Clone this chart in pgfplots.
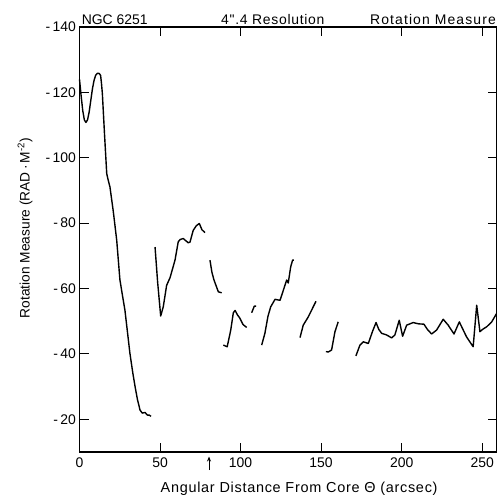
\documentclass[border=0pt]{standalone}
\usepackage{fontspec}
\setmainfont{Liberation Sans}
\newfontfamily\widefont{Liberation Sans}[LetterSpace=5]
\newfontfamily\widerfont{Liberation Sans}[LetterSpace=8]
\usepackage{pgfplots}
\pgfplotsset{compat=1.18}
\usetikzlibrary{arrows.meta}
\begin{document}
\begin{tikzpicture}
\begin{axis}[
  at={(0,0)}, anchor=south west,
  scale only axis, width=417.5bp, height=425bp,
  xmin=0, xmax=259.2, ymin=-140, ymax=-10, y dir=reverse,
  xtick={0,50,100,150,200,250},
  xticklabels={0,50,100,150,200,250},
  ytick={-140,-120,-100,-80,-60,-40,-20},
  yticklabels={-\,140,-\,120,-\,100,-\,80,-\,60,-\,40,-\,20},
  tick align=inside, major tick length=9bp,
  tick style={line width=1pt, black},
  axis line style={line width=1.1pt},
  tick label style={font=\fontsize{14}{16}\selectfont},
  xticklabel style={yshift=-2bp},
  xlabel={\widefont Angular Distance From Core Θ (arcsec)},
  ylabel={Rotation Measure (RAD\,·\,M\textsuperscript{-2})},
  xlabel style={at={(axis description cs:0.526,-0.087)}, anchor=center, font=\fontsize{14.5}{17}\selectfont},
  ylabel style={at={(axis description cs:-0.1305,0.527)}, anchor=center, font=\fontsize{13.8}{16}\selectfont},
  cycle list={{black}},
  every axis plot post/.append style={black, solid, line width=1.4pt, line join=round, mark=none},
  clip=false,
]
% core
\addplot coordinates {(0,-124) (1,-119) (2,-114.5) (3,-111.6) (4,-110.8) (5,-111.6) (6,-114) (7,-117.5) (8,-121) (9,-123.6) (10,-125.2) (11,-125.8) (12.2,-125.8) (13.1,-125.2) (13.6,-123) (14.2,-119.6) (15.5,-107.5) (16.9,-95.2) (17.6,-93.6) (18.9,-91.1) (21,-83.5) (23.1,-74.8) (25.1,-62.6) (28.2,-53.4) (31.3,-40.2) (33,-34.5) (34.5,-30) (36,-26) (37.6,-22.8) (39,-21.9) (40.7,-22.1) (42.1,-21.3) (43.3,-21.3) (44.4,-20.9)};
\addplot coordinates {(46.9,-72.7) (48.5,-62) (50.4,-51.6) (52,-54.4) (54.1,-61) (56.2,-63.3) (59.3,-68.7) (61.3,-74.3) (62.5,-75) (64.4,-75.3) (67.5,-74) (68.6,-74.2) (70.6,-77.8) (72.5,-79.2) (74.4,-79.9) (76,-78) (77.9,-77.1)};
\addplot coordinates {(81,-68.7) (82.2,-65) (83.5,-62.6) (86.2,-59) (88.3,-58.7)};
\addplot coordinates {(89.3,-42.7) (91.7,-42.2) (93.9,-47.3) (95.5,-52.6) (96.6,-53.3) (98,-52) (99.6,-50.9) (101.5,-49) (103.8,-48.1)};
\addplot coordinates {(106.9,-52.6) (108.5,-54.6) (109.6,-54.6)};
\addplot coordinates {(113.1,-42.7) (115.1,-46.3) (117,-51.5) (118.7,-54.4) (121.4,-56.7) (124.5,-56.4) (126.9,-60) (128.6,-62.6) (129.6,-61.7) (131.1,-66.6) (132.3,-68.7) (133.1,-68.7)};
\addplot coordinates {(136.9,-45) (138.9,-48.8) (142,-51.3) (146.8,-56.1)};
\addplot coordinates {(153,-40.7) (154.5,-40.6) (156.5,-41.2) (158.6,-46.8) (160.6,-49.8)};
\addplot coordinates {(171.6,-39.4) (174.1,-42.7) (176.2,-43.7) (179.3,-43.2) (182,-47) (184.1,-49.6) (185.8,-47.5) (187.6,-46.3) (190.7,-45.8) (193.8,-44.9) (195.8,-45.8) (198.5,-50.3) (200.6,-45.4) (203.1,-48.8) (207.2,-49.6) (210.5,-49.2) (213.8,-49.1) (216,-47.5) (218.6,-46.1) (221.7,-47.3) (225.8,-50.6) (228.9,-48.8) (232.5,-46.1) (235.8,-49.8) (240.3,-45.2) (244.4,-42.2) (246.6,-54.9) (248.6,-46.8) (250.5,-47.6) (252.8,-48.3) (255.9,-49.8) (259,-52.4)};
\node[anchor=base west, inner sep=0pt, font=\fontsize{14}{16}\selectfont] at ([yshift=3bp]axis description cs:0.005,1) {NGC 6251};
\node[anchor=base west, inner sep=0pt, font=\fontsize{14}{16}\selectfont] at ([yshift=3bp]axis description cs:0.339,1) {\widefont 4".4 Resolution};
\node[anchor=base east, inner sep=0pt, font=\fontsize{14}{16}\selectfont] at ([yshift=3bp, xshift=-1bp]axis description cs:1,1) {\widerfont Rotation Measure};
\draw[line width=1pt, -{Stealth[length=5bp,width=4bp]}] ([yshift=-18bp]axis cs:80.4,-10) -- ([yshift=-4.5bp]axis cs:80.4,-10);
\end{axis}
\pgfresetboundingbox
\useasboundingbox (-79.5bp,-45bp) rectangle (417.5bp,452bp);
\end{tikzpicture}
\end{document}
